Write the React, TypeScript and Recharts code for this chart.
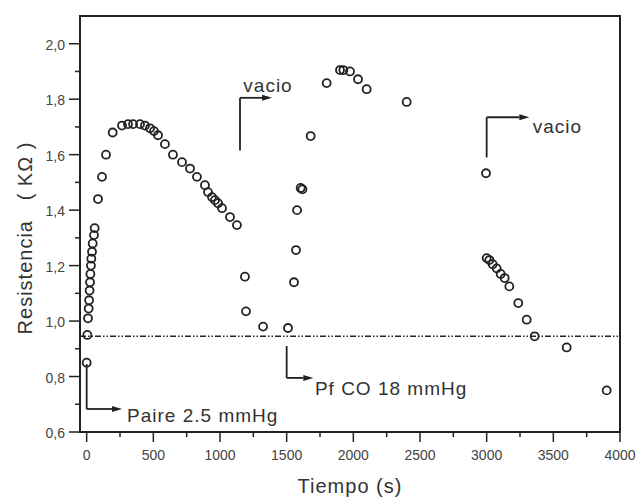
import React from "react";
import {
  ReferenceArea,
  ReferenceDot,
  ReferenceLine,
  Scatter,
  ScatterChart,
  XAxis,
  YAxis,
} from "recharts";

// tiempo (s) y resistencia (KΩ)
const tiempo = [
  0, 5, 10, 15, 18, 22, 25, 28, 32, 35, 40, 45, 55, 60, 85, 115, 145, 195,
  265, 310, 348, 400, 437, 475, 505, 535, 587, 647, 715, 775, 827, 887, 910,
  940, 962, 985, 1015, 1075, 1127,
  1187, 1195, 1323, 1510, 1555, 1570, 1578, 1605, 1618, 1680, 1800, 1900,
  1925, 1975, 2035, 2100, 2400,
  2995, 3000, 3020, 3045, 3075, 3105, 3135, 3170, 3237, 3300, 3360, 3600,
  3900,
];
const resistencia = [
  0.85, 0.95, 1.01, 1.045, 1.075, 1.11, 1.14, 1.17, 1.2, 1.225, 1.25, 1.28,
  1.31, 1.335, 1.44, 1.52, 1.6, 1.68, 1.705, 1.71, 1.71, 1.71, 1.705, 1.695,
  1.685, 1.67, 1.638, 1.6, 1.573, 1.55, 1.52, 1.49, 1.465, 1.447, 1.436,
  1.425, 1.407, 1.375, 1.346,
  1.16, 1.035, 0.98, 0.975, 1.14, 1.256, 1.4, 1.48, 1.475, 1.667, 1.858,
  1.905, 1.905, 1.9, 1.872, 1.836, 1.79,
  1.533, 1.227, 1.22, 1.205, 1.19, 1.17, 1.155, 1.125, 1.065, 1.005, 0.945,
  0.905, 0.75,
];

const xTicks = [
  0, 250, 500, 750, 1000, 1250, 1500, 1750, 2000, 2250, 2500, 2750, 3000,
  3250, 3500, 3750, 4000,
];
const yTicks = [
  0.6, 0.7, 0.8, 0.9, 1.0, 1.1, 1.2, 1.3, 1.4, 1.5, 1.6, 1.7, 1.8, 1.9, 2.0,
];

const nivelBase = 0.945;

// flechas en L: línea vertical (x, yDesde -> yHasta), luego flecha hasta xHasta
const flechas = [
  { texto: "vacio", x: 1150, yDesde: 1.615, yHasta: 1.805, xHasta: 1390, tx: 1175, ty: 1.848 },
  { texto: "vacio", x: 3000, yDesde: 1.59, yHasta: 1.735, xHasta: 3320, tx: 3345, ty: 1.7 },
  { texto: "Pf CO 18 mmHg", x: 1500, yDesde: 0.91, yHasta: 0.795, xHasta: 1700, tx: 1712, ty: 0.758 },
  { texto: "Paire 2.5 mmHg", x: 0, yDesde: 0.845, yHasta: 0.683, xHasta: 265, tx: 303, ty: 0.66 },
];

const data = tiempo.map((t, i) => ({ t, r: resistencia[i] }));

const INK = "#222";
const FONT = "'Liberation Sans', Arial, sans-serif";

const XTick = (props: any) => {
  const { x, y, payload } = props;
  const v = payload.value;
  const major = v % 500 === 0;
  return (
    <g>
      <line x1={x} x2={x} y1={y} y2={y + (major ? 10 : 5)} stroke={INK} strokeWidth={1.5} />
      {major && (
        <text x={x} y={y + 23} textAnchor="middle" dominantBaseline="central" fontSize={14} fill="#444" fontFamily={FONT}>
          {v}
        </text>
      )}
    </g>
  );
};

const YTick = (props: any) => {
  const { x, y, payload } = props;
  const v = payload.value;
  const major = Math.round(v * 10) % 2 === 0;
  return (
    <g>
      <line x1={x - (major ? 11 : 5)} x2={x} y1={y} y2={y} stroke={INK} strokeWidth={1.5} />
      {major && (
        <text x={x - 15} y={y + 1} textAnchor="end" dominantBaseline="central" fontSize={14} fill="#444" fontFamily={FONT}>
          {v.toFixed(1).replace(".", ",")}
        </text>
      )}
    </g>
  );
};

const Circulo = (props: any) => (
  <circle cx={props.cx} cy={props.cy} r={4} fill="none" stroke={INK} strokeWidth={1.8} />
);

const Flecha = (props: any) => {
  const { x1, y1, x2, y2 } = props;
  const ang = Math.atan2(y2 - y1, x2 - x1);
  const L = 10;
  const W = 3;
  const bx = x2 - L * Math.cos(ang);
  const by = y2 - L * Math.sin(ang);
  const px = -Math.sin(ang) * W;
  const py = Math.cos(ang) * W;
  return (
    <g>
      <line x1={x1} y1={y1} x2={bx} y2={by} stroke={INK} strokeWidth={1.8} />
      <polygon points={`${x2},${y2} ${bx + px},${by + py} ${bx - px},${by - py}`} fill={INK} />
    </g>
  );
};

export default function App() {
  return (
    <div style={{ position: "absolute", left: 0, top: 0, background: "#fff" }}>
      <ScatterChart width={637} height={497} margin={{ top: 16, right: 17, bottom: 0, left: 0 }}>
        <XAxis
          type="number"
          dataKey="t"
          domain={[-50, 4000]}
          allowDataOverflow
          ticks={xTicks}
          interval={0}
          tickSize={0}
          tickMargin={0}
          tickLine={false}
          tick={<XTick />}
          height={65}
          axisLine={{ stroke: INK, strokeWidth: 2 }}
          label={{
            content: (p: any) => (
              <text
                x={p.viewBox.x + p.viewBox.width / 2}
                y={p.viewBox.y + 54}
                textAnchor="middle"
                dominantBaseline="central"
                fontSize={20}
                letterSpacing={1}
                fill="#333"
                fontFamily={FONT}
              >
                Tiempo (s)
              </text>
            ),
          }}
        />
        <YAxis
          type="number"
          dataKey="r"
          domain={[0.6, 2.1]}
          allowDataOverflow
          ticks={yTicks}
          interval={0}
          tickSize={0}
          tickMargin={0}
          tickLine={false}
          tick={<YTick />}
          width={80}
          axisLine={{ stroke: INK, strokeWidth: 2 }}
          label={{
            content: (p: any) => {
              const cx = 25;
              const cy = p.viewBox.y + p.viewBox.height / 2 + 14;
              return (
                <text
                  x={cx}
                  y={cy}
                  transform={`rotate(-90 ${cx} ${cy})`}
                  textAnchor="middle"
                  dominantBaseline="central"
                  fontSize={20}
                  letterSpacing={1}
                  fill="#333"
                  fontFamily={FONT}
                  style={{ whiteSpace: "pre" }}
                >
                  {"Resistencia   ( KΩ )"}
                </text>
              );
            },
          }}
        />
        <ReferenceArea
          x1={-50}
          x2={4000}
          y1={0.6}
          y2={2.1}
          fill="none"
          stroke={INK}
          strokeWidth={2}
          ifOverflow="visible"
        />
        <ReferenceLine y={nivelBase} stroke={INK} strokeWidth={1.4} strokeDasharray="6 2 1.5 2 1.5 2" />
        {flechas.map((f, i) => (
          <ReferenceLine
            key={`v-${i}`}
            segment={[
              { x: f.x, y: f.yDesde },
              { x: f.x, y: f.yHasta },
            ]}
            stroke={INK}
            strokeWidth={1.8}
          />
        ))}
        {flechas.map((f, i) => (
          <ReferenceLine
            key={`h-${i}`}
            segment={[
              { x: f.x, y: f.yHasta },
              { x: f.xHasta, y: f.yHasta },
            ]}
            shape={<Flecha />}
          />
        ))}
        {flechas.map((f, i) => (
          <ReferenceDot
            key={`t-${i}`}
            x={f.tx}
            y={f.ty}
            shape={(p: any) => (
              <text
                x={p.cx}
                y={p.cy}
                dominantBaseline="central"
                fontSize={19}
                letterSpacing={1}
                fill="#333"
                fontFamily={FONT}
              >
                {f.texto}
              </text>
            )}
          />
        ))}
        <Scatter data={data} shape={<Circulo />} isAnimationActive={false} />
      </ScatterChart>
    </div>
  );
}
